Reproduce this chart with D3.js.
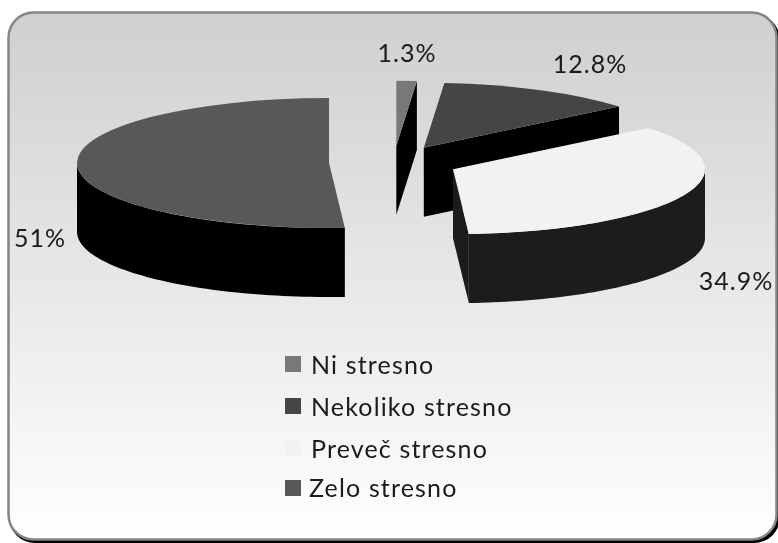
<!DOCTYPE html>
<html><head><meta charset="utf-8">
<script src="https://cdn.jsdelivr.net/npm/d3@7"></script>
<style>html,body{margin:0;padding:0;background:#fff}svg{display:block}text{font-family:Lato,"Noto Sans",sans-serif;fill:#1a1a1a}</style>
</head><body><svg id="c" width="778" height="543"></svg>
<script>
const categories = ["Ni stresno","Nekoliko stresno","Preveč stresno","Zelo stresno"];
const values = [1.3,12.8,34.9,51];
const valueLabels = ["1.3%","12.8%","34.9%","51%"];
const topColors = ["#787878","#454545","#f2f2f2","#585858"];
const wallColors = ["#000000","#000000","#1c1c1c","#000000"];
const labelPos = [[407,62],[590,73],[736,290],[40,247]];
const legendY = [356,398,440,480];
const legendTextY = [374,416,458,497];
const legendTextX = [311,311,311,309];

const W=778,H=543;
const cx=393.7,cy=162.5,rx=252,ry=65,depth=69,explode=64.7,k=ry/rx;
const svg=d3.select("#c");
const defs=svg.append("defs");
const g=defs.append("linearGradient").attr("id","bg").attr("x1",0).attr("y1",0).attr("x2",0).attr("y2",1);
g.append("stop").attr("offset","0%").attr("stop-color","#cfcfcf");
g.append("stop").attr("offset","100%").attr("stop-color","#ffffff");
const f=defs.append("filter").attr("id","soft");f.append("feGaussianBlur").attr("stdDeviation",0.5);
const ft=defs.append("filter").attr("id","softText").attr("x","-5%").attr("y","-5%").attr("width","110%").attr("height","110%");ft.append("feGaussianBlur").attr("stdDeviation",0.35);
svg.append("rect").attr("x",9).attr("y",14).attr("width",771).attr("height",529).attr("rx",26).attr("fill","#000").attr("filter","url(#soft)");
svg.append("rect").attr("x",8.5).attr("y",12.5).attr("width",768).attr("height",527).attr("rx",25)
  .attr("fill","url(#bg)").attr("stroke","#858585").attr("stroke-width",2.5);

const pie=d3.pie().sort(null).value(d=>d)(values);
const arc=d3.arc().innerRadius(0).outerRadius(rx);
const plot=svg.append("g").attr("filter","url(#soft)");
pie.forEach((s,i)=>{
  const mid=(s.startAngle+s.endAngle)/2;
  const ox=cx+explode*Math.sin(mid), oy=cy-explode*k*Math.cos(mid);
  const wall=d3.area().x(d=>d[0]).y0(d=>d[1]).y1(d=>d[1]+depth);
  const rim=a=>[ox+rx*Math.sin(a),oy-ry*Math.cos(a)];
  // visible outer wall: the front half of the rim
  const a0=Math.max(s.startAngle,Math.PI/2),a1=Math.min(s.endAngle,Math.PI*1.5);
  if(a1>a0){
    const pts=d3.range(0,61).map(t=>rim(a0+(a1-a0)*t/60));
    plot.append("path").attr("d",wall(pts)).attr("fill",wallColors[i]);
  }
  // visible cut face
  if(s.endAngle<Math.PI){
    plot.append("path").attr("d",wall([[ox,oy],rim(s.endAngle)])).attr("fill",wallColors[i]);
  }
  plot.append("path").attr("d",arc(s)).attr("transform",`translate(${ox},${oy}) scale(1,${k})`).attr("fill",topColors[i]);
});
const labels=svg.append("g").attr("filter","url(#softText)");
labels.selectAll("text").data(valueLabels).join("text")
  .attr("x",(d,i)=>labelPos[i][0]).attr("y",(d,i)=>labelPos[i][1]).attr("text-anchor","middle")
  .attr("font-size",25).attr("letter-spacing",1).text(d=>d);
const leg=svg.append("g");
leg.selectAll("rect").data(categories).join("rect").attr("x",285).attr("y",(d,i)=>legendY[i])
  .attr("width",16).attr("height",16).attr("fill",(d,i)=>topColors[i]);
leg.append("g").attr("filter","url(#softText)").selectAll("text").data(categories).join("text").attr("x",(d,i)=>legendTextX[i]).attr("y",(d,i)=>legendTextY[i])
  .attr("font-size",25).attr("letter-spacing",1.15).text(d=>d);
</script></body></html>
